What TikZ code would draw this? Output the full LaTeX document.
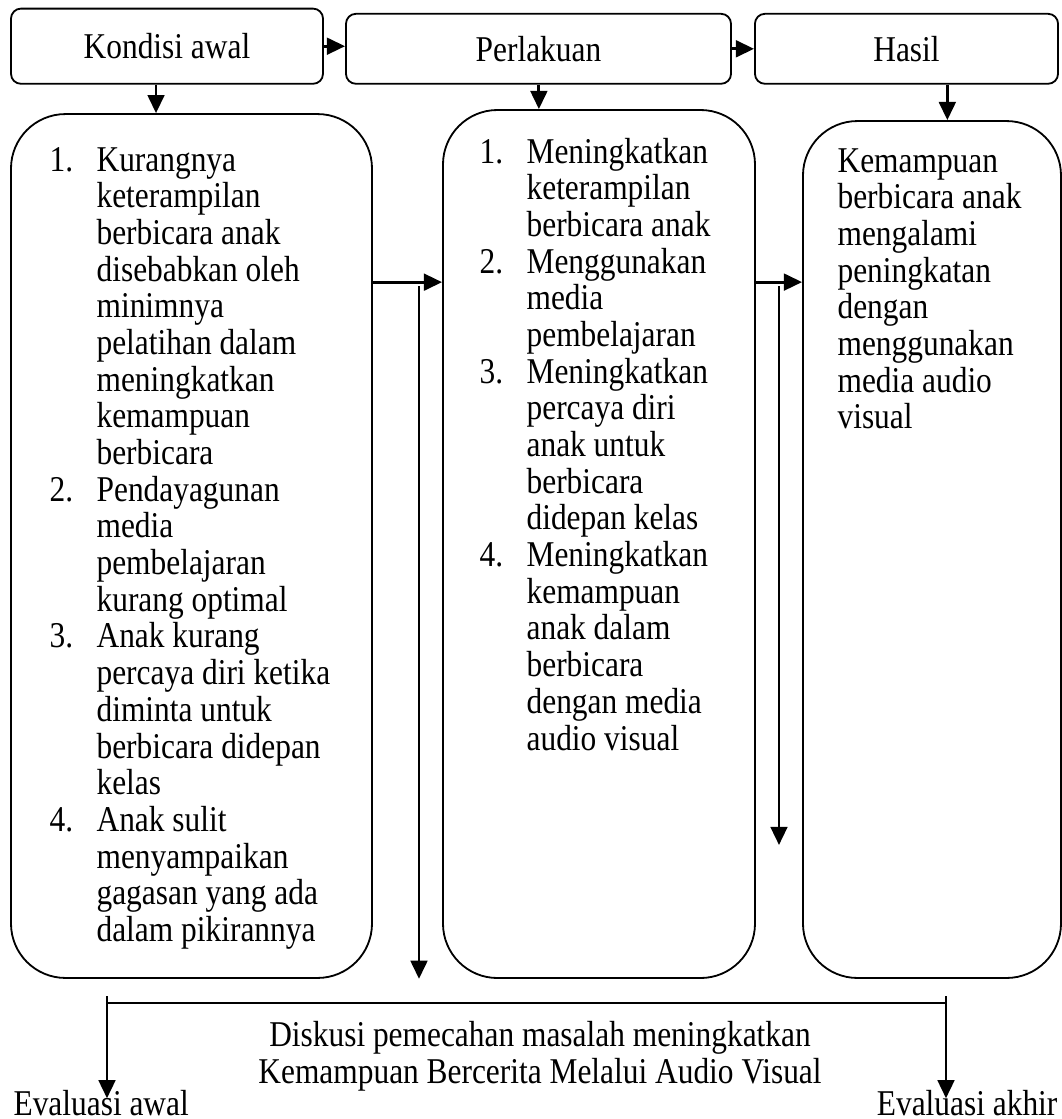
\documentclass[tikz,border=0pt]{standalone}
\usepackage{fontspec}
\setmainfont{Liberation Serif}[FakeStretch=0.865]
\usetikzlibrary{arrows.meta,positioning,calc}
\tikzset{
  kfHead/.style={draw, line width=0.6pt, rounded corners=3.3pt, inner sep=0pt},
  kfBox/.style={draw, line width=0.6pt, rounded corners=18pt, inner sep=0pt},
  kfText/.style={inner sep=0pt, anchor=base west},
  %% arrows
  kfArr/.style={-{Triangle[length=6pt,width=5.5pt]}, line width=0.95pt},
  kfLine/.style={line width=0.95pt},
}

\begin{document}
\begin{tikzpicture}[x=0.3306pt, y=-0.3306pt, font=\fontsize{12}{12.13}\selectfont]
\useasboundingbox (0,0) rectangle (1062,1119);

\node[kfHead, minimum width=103.15pt, minimum height=24.86pt] (hKondisi)   at (167,46.2)   {Kondisi awal};
\node[kfHead, minimum width=127.3pt,  minimum height=23.14pt] (hPerlakuan) at (538.5,48.8) {Perlakuan};
\node[kfHead, minimum width=100.2pt,  minimum height=23.14pt] (hHasil)     at (906.5,48.8) {Hasil};

\node[kfBox, minimum width=119.35pt, minimum height=285.6pt]  (bKondisi)   at (191.5,546) {};
\node[kfBox, minimum width=103.15pt, minimum height=286.96pt] (bPerlakuan) at (599,544)   {};
\node[kfBox, minimum width=85.3pt,   minimum height=283.3pt]  (bHasil)     at (932,549.5) {};

\node[kfText] (tKondisi) at (49,171) {%
\begin{tabular}[t]{@{}p{15.54pt}@{}l@{}}
1. & Kurangnya\\
   & keterampilan\\
   & berbicara anak\\
   & disebabkan oleh\\
   & minimnya\\
   & pelatihan dalam\\
   & meningkatkan\\
   & kemampuan\\
   & berbicara\\
2. & Pendayagunan\\
   & media\\
   & pembelajaran\\
   & kurang optimal\\
3. & Anak kurang\\
   & percaya diri ketika\\
   & diminta untuk\\
   & berbicara didepan\\
   & kelas\\
4. & Anak sulit\\
   & menyampaikan\\
   & gagasan yang ada\\
   & dalam pikirannya
\end{tabular}};

\node[kfText] (tPerlakuan) at (479,163) {%
\begin{tabular}[t]{@{}p{15.54pt}@{}l@{}}
1. & Meningkatkan\\
   & keterampilan\\
   & berbicara anak\\
2. & Menggunakan\\
   & media\\
   & pembelajaran\\
3. & Meningkatkan\\
   & percaya diri\\
   & anak untuk\\
   & berbicara\\
   & didepan kelas\\
4. & Meningkatkan\\
   & kemampuan\\
   & anak dalam\\
   & berbicara\\
   & dengan media\\
   & audio visual
\end{tabular}};

\node[kfText] (tHasil) at (837,172) {%
\begin{tabular}[t]{@{}l@{}}
Kemampuan\\
berbicara anak\\
mengalami\\
peningkatan\\
dengan\\
menggunakan\\
media audio\\
visual
\end{tabular}};

\draw[kfArr] (hKondisi.east) -- (hKondisi.east -| hPerlakuan.west);
\draw[kfArr] (hPerlakuan.east) -- (hPerlakuan.east -| hHasil.west);
\draw[kfArr] ($(hKondisi.south west)!.465!(hKondisi.south east)$) coordinate (cA) -- (cA |- bKondisi.north);
\draw[kfArr] ($(hPerlakuan.south west)!.501!(hPerlakuan.south east)$) coordinate (cB) -- (cB |- bPerlakuan.north);
\draw[kfArr] ($(hHasil.south west)!.634!(hHasil.south east)$) coordinate (cC) -- (cC |- bHasil.north);

\draw[kfArr] ($(bKondisi.north east)+(0,169)$) coordinate (cD) -- (cD -| bPerlakuan.west);
\draw[kfArr] ($(bPerlakuan.north east)+(0,173)$) coordinate (cE) -- (cE -| bHasil.west);

\coordinate (cTurunA) at (419,286);
\draw[kfArr] (cTurunA) -- (cTurunA |- bKondisi.south);
\coordinate (cTurunB) at (779,286);
\coordinate (cUjungB) at (779,845);
\draw[kfArr] (cTurunB) -- (cUjungB);

\node[align=center, inner sep=0pt] (tDiskusi) at (540,1056)
  {Diskusi pemecahan masalah meningkatkan\\Kemampuan Bercerita Melalui Audio Visual};
\node[kfText] (tAwal) at (13,1115) {Evaluasi awal};
\node[inner sep=0pt, anchor=base east] (tAkhir) at (1058,1115) {Evaluasi akhir};

\coordinate (cBarL) at (107,1003);
\coordinate (cBarR) at (946,1003);
\draw[kfLine] (cBarL) -- (cBarR);
\draw[kfArr, shorten >=-3pt] ($(cBarL)+(0,-7)$) -- (cBarL |- tAwal.north);
\draw[kfArr, shorten >=-3pt] ($(cBarR)+(0,-7)$) -- (cBarR |- tAkhir.north);

\end{tikzpicture}
\end{document}
